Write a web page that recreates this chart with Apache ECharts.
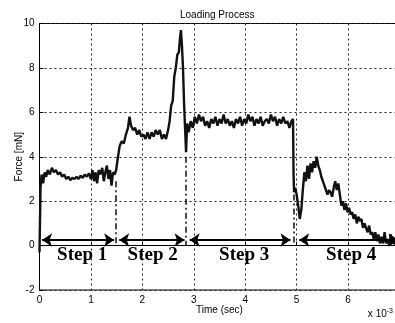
<!DOCTYPE html>
<html>
<head>
<meta charset="utf-8">
<script src="https://cdn.jsdelivr.net/npm/echarts@6/dist/echarts.min.js"></script>
<style>
html,body{margin:0;padding:0;background:#fff;}
#c{width:395px;height:323px;}
</style>
</head>
<body>
<div id="c"></div>
<script>
// time in units of 1e-3 s
var time = [0.00,0.02,0.04,0.07,0.10,0.13,0.16,0.20,0.24,0.28,0.32,0.36,0.40,0.44,0.48,0.52,0.56,0.60,0.64,0.68,0.72,0.76,0.80,0.84,0.88,0.92,0.96,1.00,1.03,1.06,1.09,1.12,1.15,1.18,1.22,1.25,1.28,1.31,1.34,1.37,1.40,1.43,1.46,1.49,
1.52,1.56,1.60,1.64,1.68,1.72,1.75,1.78,1.82,1.86,1.90,1.94,1.98,2.02,2.06,2.10,2.14,2.18,2.22,2.26,2.30,2.34,2.38,2.42,2.46,2.50,2.53,2.56,2.59,2.62,2.65,2.68,2.71,2.73,2.75,2.77,2.79,2.81,2.83,2.85,2.87,
2.90,2.94,2.98,3.02,3.06,3.10,3.14,3.18,3.22,3.26,3.30,3.34,3.38,3.42,3.46,3.50,3.54,3.58,3.62,3.66,3.70,3.74,3.78,3.82,3.86,3.90,3.94,3.98,4.02,4.06,4.10,4.14,4.18,4.22,4.26,4.30,4.34,4.38,4.42,4.46,4.50,4.54,4.58,4.62,4.66,4.70,4.74,4.78,4.82,4.86,4.90,4.93,
4.94,4.95,4.97,5.00,5.03,5.06,5.09,5.12,5.15,5.18,5.21,5.24,5.27,5.30,5.33,5.36,5.39,5.42,5.45,5.48,5.51,5.54,5.57,5.60,5.63,5.66,5.69,5.72,5.75,5.78,5.81,5.84,5.87,5.90,5.93,5.96,5.99,6.02,6.05,6.08,6.11,6.14,6.17,6.20,6.23,6.26,6.29,6.32,6.35,6.38,6.41,6.44,6.47,6.50,6.53,6.56,6.59,6.62,6.65,6.68,6.71,6.74,6.77,6.80,6.83,6.86,6.89,6.92,6.95];
var force = [-0.3,2.6,3.2,2.8,3.3,3.1,3.4,3.2,3.5,3.3,3.4,3.2,3.3,3.1,3.2,3.0,3.1,2.95,3.05,3.0,3.1,3.0,3.15,3.05,3.2,3.1,3.25,3.0,3.4,2.9,3.3,2.8,3.4,3.2,3.5,2.9,3.3,3.6,3.0,3.4,2.7,3.3,3.2,3.4,
3.9,4.5,4.7,4.6,5.0,5.3,5.8,5.4,5.2,5.3,5.0,5.2,4.9,5.0,4.8,5.1,4.8,5.1,4.9,5.2,5.0,5.2,4.8,5.0,4.8,5.2,5.6,6.3,6.5,7.6,8.0,8.6,8.7,9.3,9.7,9.0,8.0,6.5,5.3,4.2,5.5,
5.1,5.6,5.3,5.8,5.5,5.9,5.6,5.8,5.4,5.6,5.3,5.7,5.5,5.8,5.4,5.7,5.5,5.9,5.5,5.7,5.4,5.6,5.3,5.7,5.5,5.8,5.4,5.7,5.5,5.9,5.6,5.8,5.4,5.7,5.5,5.8,5.4,5.6,5.7,5.5,5.9,5.6,5.8,5.4,5.7,5.5,5.8,5.5,5.6,5.3,5.6,5.7,
3.2,2.4,2.6,2.3,1.8,1.2,1.6,2.5,3.3,2.9,3.6,3.0,3.7,3.3,3.8,3.5,4.0,3.6,3.4,3.1,2.9,2.7,2.5,2.3,2.5,2.4,2.2,2.6,2.9,2.5,2.8,2.3,1.8,2.0,1.6,1.9,1.5,1.7,1.4,1.5,1.2,1.4,1.0,1.3,1.1,1.2,0.8,1.0,0.8,0.6,0.9,0.5,0.6,0.3,0.6,0.2,0.5,0.1,0.4,0.1,0.6,0.1,0.3,0.0,0.5,0.1,0.2,0.0,0.1];

var stepLabels = ['Step 1','Step 2','Step 3','Step 4'];
var stepCenters = [0.83, 2.2, 3.98, 6.06];
var stepLabelLevel = -0.45;
var arrowStart = [0.05, 1.55, 2.92, 5.05];
var arrowEnd = [1.45, 2.82, 4.88, 6.98];
var arrowLevel = 0.25;
var boundaryT = [1.48, 2.84, 4.94];
var boundaryTop = [2.9, 4.0, 2.3];

var xTicks = {min:0, max:7, interval:1};
var yTicks = {min:-2, max:10, interval:2};

var pts = time.map(function(t,i){return [t, force[i]];});

var arrowData = arrowStart.map(function(s,i){
  return [{coord:[s, arrowLevel]},{coord:[arrowEnd[i], arrowLevel]}];
});
var boundaryData = boundaryT.map(function(t,i){
  return [{coord:[t, boundaryTop[i]]},{coord:[t, 0]}];
});
var labelData = stepCenters.map(function(t,i){
  return {value:[t, stepLabelLevel], name: stepLabels[i]};
});

var font = 'Liberation Sans, Arial, sans-serif';
var chart = echarts.init(document.getElementById('c'));
chart.setOption({
  animation:false,
  backgroundColor:'#fff',
  title:{text:'Loading Process', left:175, top:5,
    textStyle:{fontSize:10, fontWeight:'normal', color:'#000', fontFamily:font}},
  grid:{left:39.5, right:-4.5, top:23.5, bottom:33, show:true, borderColor:'#000', borderWidth:1,
    containLabel:false, outerBoundsMode:'none'},
  xAxis:{type:'value', min:xTicks.min, max:xTicks.max, interval:xTicks.interval,
    name:'Time (sec)', nameLocation:'middle', nameGap:15, nameMoveOverlap:false,
    nameTextStyle:{fontSize:10, color:'#000', fontFamily:font},
    axisLine:{lineStyle:{color:'#000', width:1}},
    axisTick:{inside:true, length:4, lineStyle:{color:'#000'}},
    axisLabel:{fontSize:10, color:'#000', fontFamily:font, margin:5, showMaxLabel:true},
    splitLine:{show:true, lineStyle:{color:'#222', type:[2,3], width:1}}},
  yAxis:{type:'value', min:yTicks.min, max:yTicks.max, interval:yTicks.interval,
    name:'Force [mN]', nameLocation:'middle', nameGap:15, nameMoveOverlap:false,
    nameTextStyle:{fontSize:10, color:'#000', fontFamily:font},
    axisLine:{show:true, lineStyle:{color:'#000', width:1}},
    axisTick:{show:true, inside:true, length:4, lineStyle:{color:'#000'}},
    axisLabel:{fontSize:10, color:'#000', fontFamily:font, margin:5},
    splitLine:{show:true, lineStyle:{color:'#222', type:[2,3], width:1}}},
  graphic:[{type:'text', right:2, bottom:4,
    style:{text:'x 10{s|-3}', rich:{s:{fontSize:7, verticalAlign:'top', padding:[0,0,6,0]}}, font:'10px '+font, fill:'#000'}}],
  series:[
    {type:'line', data:pts, showSymbol:false, symbol:'none',
     lineStyle:{color:'#111', width:2.4}, z:3,
     markLine:{silent:true, symbol:'none', label:{show:false},
       lineStyle:{color:'#111', width:1.5, type:[6,3,2,3]}, data:boundaryData}},
    {type:'line', data:[], markLine:{silent:true, symbol:['arrow','arrow'], symbolSize:10, label:{show:false},
       lineStyle:{color:'#000', width:2, type:'solid'}, data:arrowData}},
    {type:'scatter', data:labelData, symbolSize:1, itemStyle:{color:'rgba(0,0,0,0)'}, z:5,
     label:{show:true, position:'inside', formatter:function(p){return p.name;},
       textBorderWidth:0, opacity:1,
       fontFamily:'Liberation Serif, Times New Roman, serif', fontWeight:'bold', fontSize:19, color:'#000'}}
  ]
});
</script>
</body>
</html>
